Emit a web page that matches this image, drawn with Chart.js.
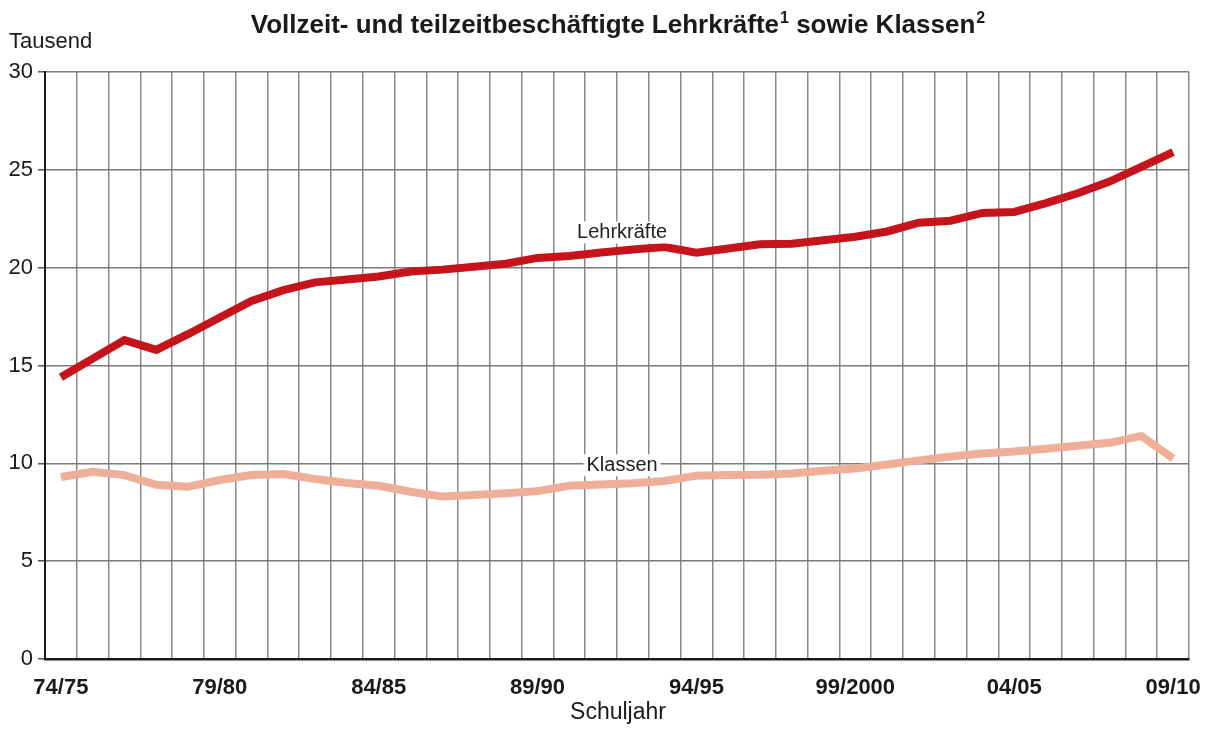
<!DOCTYPE html>
<html>
<head>
<meta charset="utf-8">
<script src="https://cdn.jsdelivr.net/npm/chart.js@4/dist/chart.umd.min.js"></script>
<style>
html,body{margin:0;padding:0;background:#fff;}
canvas{display:block;}
</style>
</head>
<body>
<canvas id="c" width="1213" height="729"></canvas>
<script>
const schuljahre = ['74/75','75/76','76/77','77/78','78/79','79/80','80/81','81/82','82/83','83/84','84/85','85/86','86/87','87/88','88/89','89/90','90/91','91/92','92/93','93/94','94/95','95/96','96/97','97/98','98/99','99/2000','00/01','01/02','02/03','03/04','04/05','05/06','06/07','07/08','08/09','09/10'];
const shownTicks = ['74/75','79/80','84/85','89/90','94/95','99/2000','04/05','09/10'];
const lehrkraefte = [14.4, 15.35, 16.3, 15.8, 16.6, 17.45, 18.3, 18.85, 19.25, 19.4, 19.55, 19.8, 19.9, 20.05, 20.2, 20.5, 20.6, 20.77, 20.93, 21.05, 20.77, 20.98, 21.2, 21.22, 21.4, 21.58, 21.85, 22.3, 22.4, 22.8, 22.85, 23.3, 23.8, 24.4, 25.15, 25.9];
const klassen = [9.3, 9.57, 9.4, 8.9, 8.8, 9.15, 9.4, 9.45, 9.2, 9.0, 8.85, 8.55, 8.3, 8.38, 8.47, 8.58, 8.85, 8.92, 8.98, 9.1, 9.37, 9.4, 9.42, 9.48, 9.62, 9.74, 9.94, 10.15, 10.35, 10.5, 10.6, 10.75, 10.9, 11.05, 11.4, 10.25];
const seriesNames = ['Lehrkräfte', 'Klassen'];
const titleParts = [
  {t: 'Vollzeit- und teilzeitbeschäftigte Lehrkräfte', sup: false},
  {t: '1', sup: true},
  {t: ' sowie Klassen', sup: false},
  {t: '2', sup: true}
];

const FONT = '"Liberation Sans", Arial, Helvetica, sans-serif';

const textPlugin = {
  id: 'texts',
  afterDatasetsDraw(chart) {
    const ctx = chart.ctx;
    const x = chart.scales.x, y = chart.scales.y;
    const labels = [
      {t: seriesNames[0], idx: 17.66, v: 21.8},
      {t: seriesNames[1], idx: 17.66, v: 9.9}
    ];
    ctx.save();
    ctx.font = '20px ' + FONT;
    ctx.textAlign = 'center';
    ctx.textBaseline = 'middle';
    labels.forEach(l => {
      const px = x.getPixelForValue(l.idx);
      const py = y.getPixelForValue(l.v);
      const w = ctx.measureText(l.t).width;
      ctx.fillStyle = '#fff';
      ctx.fillRect(px - w/2 - 3, py - 11, w + 6, 22);
      ctx.fillStyle = '#222';
      ctx.fillText(l.t, px, py);
    });
    ctx.restore();
  },
  afterDraw(chart) {
    const ctx = chart.ctx;
    ctx.save();
    ctx.fillStyle = '#1a1a1a';
    // title with superscripts
    const big = 'bold 26px ' + FONT, small = 'bold 16px ' + FONT;
    let total = 0;
    titleParts.forEach(p => { ctx.font = p.sup ? small : big; total += ctx.measureText(p.t).width + (p.sup ? 1 : 0); });
    let cx = 618 - total / 2;
    ctx.textAlign = 'left';
    ctx.textBaseline = 'alphabetic';
    titleParts.forEach(p => {
      ctx.font = p.sup ? small : big;
      ctx.fillText(p.t, cx + (p.sup ? 1 : 0), p.sup ? 23 : 33);
      cx += ctx.measureText(p.t).width + (p.sup ? 1 : 0);
    });
    // unit
    ctx.font = '22px ' + FONT;
    ctx.textAlign = 'left';
    ctx.fillText('Tausend', 9, 48);
    // x axis title
    ctx.font = '23px ' + FONT;
    ctx.textAlign = 'center';
    ctx.fillText('Schuljahr', 618, 719);
    ctx.restore();
  }
};

new Chart(document.getElementById('c'), {
  type: 'line',
  data: {
    labels: schuljahre,
    datasets: [
      {label: seriesNames[0], data: lehrkraefte, borderColor: '#c5141c', borderWidth: 8, pointRadius: 0, tension: 0, fill: false},
      {label: seriesNames[1], data: klassen, borderColor: '#eeae97', borderWidth: 8, pointRadius: 0, tension: 0, fill: false}
    ]
  },
  options: {
    responsive: false,
    animation: false,
    devicePixelRatio: 1,
    layout: {padding: {top: 72, right: 24, left: 0, bottom: 0}},
    plugins: {legend: {display: false}, title: {display: false}, tooltip: {enabled: false}},
    scales: {
      x: {
        type: 'category',
        offset: true,
        grid: {offset: true, color: '#8a8a8a', lineWidth: 1.5, drawTicks: false},
        border: {color: '#1a1a1a', width: 2.5},
        ticks: {
          autoSkip: false, maxRotation: 0, minRotation: 0, padding: 16,
          color: '#1a1a1a',
          font: {family: FONT, size: 22, weight: 'bold'},
          callback: function(v, i) { const l = schuljahre[i]; return shownTicks.includes(l) ? l : ''; }
        },
        afterFit: s => { s.height = 70; s.paddingLeft = 0; s.paddingRight = 0; }
      },
      y: {
        min: 0, max: 30,
        grid: {color: '#7a7a7a', lineWidth: 1.5, tickLength: 7, tickColor: '#555'},
        border: {color: '#1a1a1a', width: 2},
        ticks: {stepSize: 5, padding: 5, color: '#1a1a1a', font: {family: FONT, size: 22}},
        afterFit: s => { s.width = 45; }
      }
    }
  },
  plugins: [textPlugin]
});
</script>
</body>
</html>
